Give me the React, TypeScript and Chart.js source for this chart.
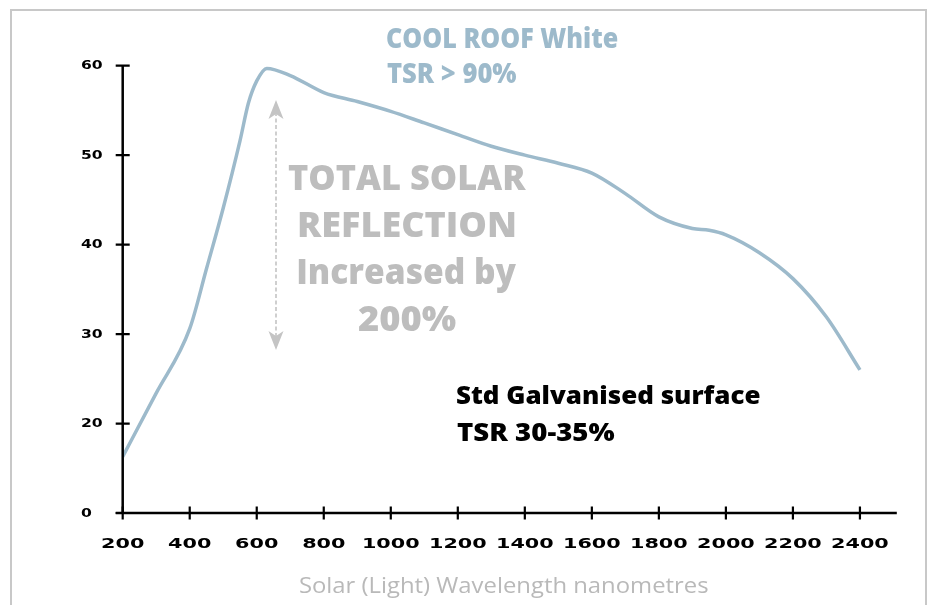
import React, { useEffect, useRef } from "react";
import { Chart, registerables } from "chart.js";

Chart.register(...registerables);

// ---- data ----
const wavelengths = [200, 300, 400, 450, 500, 550, 575, 600, 630, 700, 800, 900, 1000, 1100, 1200, 1300, 1400, 1500, 1600, 1700, 1800, 1900, 1950, 2000, 2100, 2200, 2300, 2400];
const reflectance = [16.3, 23.4, 30.6, 37.3, 44.1, 51.6, 55.8, 58.3, 59.7, 58.9, 57.0, 56.0, 54.9, 53.6, 52.3, 51.0, 50.0, 49.1, 48.0, 45.7, 43.1, 41.8, 41.6, 41.1, 39.1, 36.2, 31.9, 26.0];
const xTickValues = [200, 400, 600, 800, 1000, 1200, 1400, 1600, 1800, 2000, 2200, 2400];
const yTickValues = [10, 20, 30, 40, 50, 60];
const yTickLabels = ["0", "20", "30", "40", "50", "60"];
const seriesLabel = "COOL ROOF White";
const xAxisTitle = "Solar (Light) Wavelength nanometres";
const coolRoofLines = ["COOL ROOF White", "TSR > 90%"];
const tsrLines = ["TOTAL SOLAR", "REFLECTION", "Increased by", "200%"];
const galvLines = ["Std Galvanised surface", "TSR 30-35%"];

const LINE_COLOR = "#9dbacb";

function fitText(ctx: CanvasRenderingContext2D, text: string, font: string, color: string, inkLeft: number, inkWidth: number, baseline: number) {
  ctx.save();
  ctx.font = font;
  ctx.textAlign = "left";
  ctx.textBaseline = "alphabetic";
  const m = ctx.measureText(text);
  const w = m.actualBoundingBoxLeft + m.actualBoundingBoxRight;
  const sx = inkWidth / w;
  ctx.translate(inkLeft + m.actualBoundingBoxLeft * sx, baseline);
  ctx.scale(sx, 1);
  ctx.fillStyle = color;
  ctx.fillText(text, 0, 0);
  ctx.restore();
}

function scaledText(ctx: CanvasRenderingContext2D, text: string, font: string, x: number, y: number, sx: number, align: CanvasTextAlign) {
  ctx.save();
  ctx.font = font;
  ctx.textAlign = align;
  ctx.textBaseline = "middle";
  ctx.translate(x, y);
  ctx.scale(sx, 1);
  ctx.fillStyle = "#000";
  ctx.fillText(text, 0, 0);
  ctx.restore();
}

const decorPlugin = {
  id: "decor",
  beforeDraw(chart: any) {
    const ctx = chart.ctx as CanvasRenderingContext2D;
    ctx.save();
    ctx.fillStyle = "#fff";
    ctx.fillRect(0, 0, chart.width, chart.height);
    ctx.strokeStyle = "#c8c8c8";
    ctx.lineWidth = 2;
    ctx.strokeRect(11, 10, 915, 620);
    ctx.restore();
  },
  afterDraw(chart: any) {
    const ctx = chart.ctx as CanvasRenderingContext2D;
    const xs = chart.scales.x;
    const ys = chart.scales.y;
    const area = chart.chartArea;
    const x0 = xs.getPixelForValue(200);
    const yBase = ys.getPixelForValue(10);
    ctx.save();
    ctx.strokeStyle = "#000";
    ctx.lineCap = "butt";
    // axes
    ctx.lineWidth = 2.5;
    ctx.beginPath();
    ctx.moveTo(x0, ys.getPixelForValue(60));
    ctx.lineTo(x0, yBase);
    ctx.moveTo(x0 - 7, yBase);
    ctx.lineTo(area.right, yBase);
    ctx.stroke();
    // ticks
    ctx.lineWidth = 2.2;
    ctx.beginPath();
    yTickValues.forEach((v) => {
      const py = ys.getPixelForValue(v);
      ctx.moveTo(x0 - 7, py);
      ctx.lineTo(x0 + 7, py);
    });
    xTickValues.forEach((v) => {
      const px = xs.getPixelForValue(v);
      ctx.moveTo(px, yBase - 6.5);
      ctx.lineTo(px, yBase + 6.5);
    });
    ctx.stroke();
    // tick labels
    yTickValues.forEach((v, i) => {
      scaledText(ctx, yTickLabels[i], "bold 12px 'DejaVu Sans'", 81, ys.getPixelForValue(v) + 0.5, 1.3, "left");
    });
    xTickValues.forEach((v) => {
      scaledText(ctx, String(v), "bold 14px 'DejaVu Sans'", xs.getPixelForValue(v), 544, 1.48, "center");
    });
    // axis title
    fitText(ctx, xAxisTitle, "22px 'Open Sans'", "#b9b9b9", 300, 408, 593);

    // COOL ROOF annotation
    fitText(ctx, coolRoofLines[0], "800 28px 'Open Sans'", LINE_COLOR, 387, 231, 48);
    fitText(ctx, coolRoofLines[1], "800 28px 'Open Sans'", LINE_COLOR, 387, 130, 83);

    // TOTAL SOLAR annotation
    const tsrWidths = [238, 216, 218, 98];
    const tsrBase = [190, 237, 284, 331];
    tsrLines.forEach((t, i) => {
      fitText(ctx, t, "800 36px 'Open Sans'", "#bdbdbd", 407 - tsrWidths[i] / 2, tsrWidths[i], tsrBase[i]);
    });

    // Std galvanised annotation
    fitText(ctx, galvLines[0], "800 25px 'Open Sans'", "#000", 457, 303, 404);
    fitText(ctx, galvLines[1], "800 25px 'Open Sans'", "#000", 457, 158, 441);

    // dashed double arrow
    const ax = 276;
    const top = 100;
    const bot = 350;
    ctx.strokeStyle = "#c4c4c4";
    ctx.fillStyle = "#c4c4c4";
    ctx.lineWidth = 1.6;
    ctx.setLineDash([4, 2.5]);
    ctx.beginPath();
    ctx.moveTo(ax, top + 12);
    ctx.lineTo(ax, bot - 12);
    ctx.stroke();
    ctx.setLineDash([]);
    ctx.beginPath();
    ctx.moveTo(ax, top);
    ctx.lineTo(ax - 7.5, top + 19);
    ctx.lineTo(ax, top + 14);
    ctx.lineTo(ax + 7.5, top + 19);
    ctx.closePath();
    ctx.fill();
    ctx.beginPath();
    ctx.moveTo(ax, bot);
    ctx.lineTo(ax - 7.5, bot - 19);
    ctx.lineTo(ax, bot - 14);
    ctx.lineTo(ax + 7.5, bot - 19);
    ctx.closePath();
    ctx.fill();
    ctx.restore();
  },
};

export default function App() {
  const ref = useRef<HTMLCanvasElement | null>(null);
  useEffect(() => {
    if (!ref.current) return;
    const chart = new Chart(ref.current, {
      type: "line",
      data: {
        datasets: [
          {
            label: seriesLabel,
            data: wavelengths.map((x, i) => ({ x, y: reflectance[i] })),
            borderColor: LINE_COLOR,
            borderWidth: 3.5,
            pointRadius: 0,
            fill: false,
            cubicInterpolationMode: "monotone",
          },
        ],
      },
      options: {
        responsive: false,
        animation: false,
        layout: { padding: { left: 122.7, right: 38.2, top: 65.7, bottom: 92 } },
        plugins: { legend: { display: false }, tooltip: { enabled: false } },
        scales: {
          x: { type: "linear", min: 200, max: 2510, display: false },
          y: { type: "linear", min: 10, max: 60, display: false },
        },
      },
      plugins: [decorPlugin],
    });
    return () => chart.destroy();
  }, []);
  return (
    <div style={{ position: "absolute", left: 0, top: 0, width: 935, height: 605 }}>
      <canvas ref={ref} width={935} height={605} style={{ display: "block" }} />
    </div>
  );
}
